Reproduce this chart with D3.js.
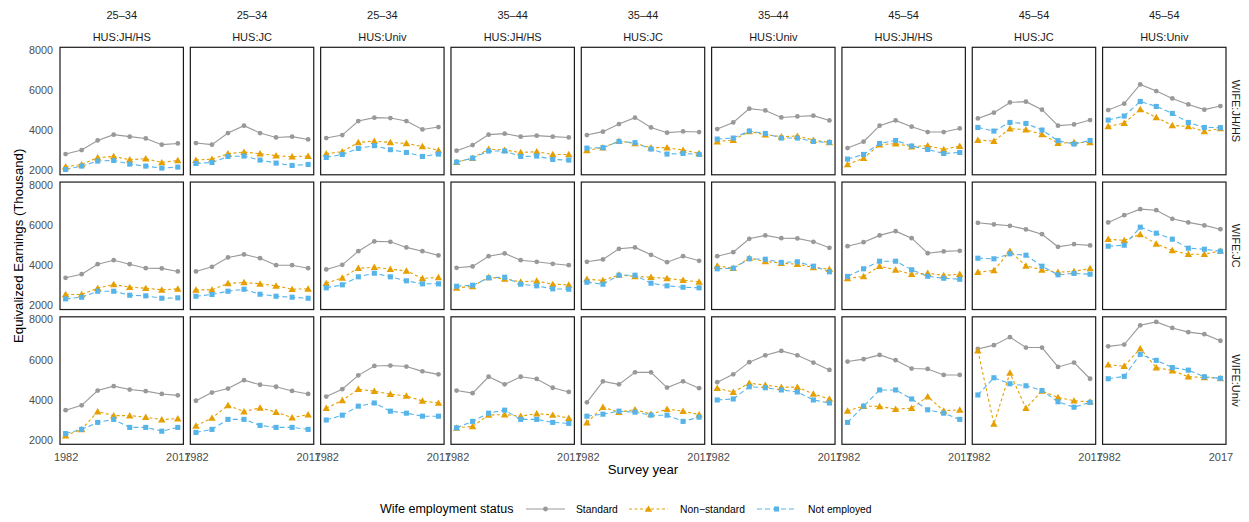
<!DOCTYPE html>
<html>
<head>
<meta charset="utf-8">
<script src="https://cdn.jsdelivr.net/npm/d3@7"></script>
<style>
  body { margin: 0; background: #fff; }
  svg { font-family: "Liberation Sans", Arial, Helvetica, sans-serif; }
</style>
</head>
<body>
<div id="chart"></div>
<script>
// facet labels
const ageGroups = ["25–34", "25–34", "25–34", "35–44", "35–44", "35–44", "45–54", "45–54", "45–54"];
const husEdu = ["HUS:JH/HS", "HUS:JC", "HUS:Univ", "HUS:JH/HS", "HUS:JC", "HUS:Univ", "HUS:JH/HS", "HUS:JC", "HUS:Univ"];
const wifeEdu = ["WIFE:JH/HS", "WIFE:JC", "WIFE:Univ"];
const years = [1982, 1987, 1992, 1997, 2002, 2007, 2012, 2017];
const yTicks = [2000, 4000, 6000, 8000];
const xTicks = [1982, 2017];

// values by [wife row][panel column][year]
const standard = [
  [
    [2800, 3000, 3480, 3770, 3670, 3580, 3270, 3330],
    [3350, 3270, 3850, 4220, 3850, 3630, 3670, 3530],
    [3600, 3750, 4450, 4620, 4600, 4450, 4030, 4150],
    [2970, 3250, 3770, 3820, 3670, 3720, 3670, 3630],
    [3750, 3920, 4300, 4620, 4130, 3870, 3930, 3900],
    [4050, 4380, 5070, 4980, 4630, 4680, 4720, 4480],
    [3100, 3420, 4220, 4480, 4170, 3900, 3900, 4080],
    [4580, 4870, 5380, 5420, 5020, 4220, 4280, 4500],
    [5000, 5320, 6280, 5950, 5580, 5280, 5020, 5200]
  ],
  [
    [3350, 3530, 4030, 4230, 4030, 3830, 3820, 3670],
    [3670, 3900, 4370, 4520, 4330, 3980, 3980, 3830],
    [3770, 4000, 4680, 5170, 5150, 4870, 4680, 4470],
    [3850, 3920, 4430, 4570, 4230, 4150, 4050, 3980],
    [4150, 4270, 4800, 4870, 4500, 4130, 4430, 4200],
    [4430, 4630, 5300, 5470, 5330, 5320, 5150, 4850],
    [4930, 5130, 5470, 5680, 5330, 4580, 4670, 4700],
    [6100, 6020, 5950, 5770, 5530, 4900, 5030, 4970],
    [6120, 6480, 6780, 6730, 6300, 6120, 5970, 5780]
  ],
  [
    [3470, 3710, 4450, 4670, 4500, 4420, 4280, 4210],
    [3940, 4350, 4550, 4970, 4740, 4640, 4430, 4280],
    [4150, 4520, 5210, 5680, 5700, 5650, 5410, 5260],
    [4450, 4320, 5140, 4760, 5140, 5030, 4590, 4380],
    [3860, 4910, 4760, 5360, 5360, 4600, 4910, 4570],
    [4870, 5260, 5870, 6210, 6430, 6210, 5850, 5480],
    [5900, 6020, 6230, 5970, 5550, 5530, 5230, 5230],
    [6530, 6720, 7120, 6600, 6600, 5630, 5850, 5040],
    [6660, 6750, 7710, 7880, 7580, 7370, 7270, 6940]
  ]
];

const nonStandard = [
  [
    [2170, 2280, 2620, 2680, 2520, 2570, 2380, 2480],
    [2500, 2550, 2820, 2900, 2820, 2720, 2670, 2700],
    [2820, 2920, 3380, 3450, 3380, 3330, 3180, 2980],
    [2400, 2600, 3050, 3000, 2880, 2920, 2780, 2780],
    [2980, 3120, 3450, 3330, 3120, 3120, 3000, 2830],
    [3420, 3500, 3930, 3770, 3670, 3700, 3500, 3380],
    [2280, 2600, 3270, 3320, 3170, 3220, 3030, 3200],
    [3500, 3450, 4070, 4020, 3780, 3350, 3380, 3380],
    [4180, 4350, 5030, 4630, 4230, 4180, 3930, 4080]
  ],
  [
    [2520, 2520, 2830, 3020, 2880, 2830, 2750, 2800],
    [2750, 2750, 3070, 3120, 3050, 2950, 2780, 2800],
    [3080, 3350, 3830, 3880, 3780, 3700, 3320, 3370],
    [2850, 2920, 3370, 3300, 3150, 3200, 3030, 3000],
    [3280, 3220, 3500, 3420, 3380, 3320, 3230, 3150],
    [3950, 3830, 4330, 4170, 4080, 4030, 3870, 3780],
    [3320, 3420, 3930, 3750, 3530, 3580, 3470, 3530],
    [3630, 3720, 4680, 3950, 3750, 3630, 3670, 3820],
    [5280, 5220, 5520, 5050, 4720, 4530, 4530, 4700]
  ],
  [
    [2200, 2510, 3400, 3200, 3200, 3120, 3000, 3050],
    [2690, 3080, 3710, 3400, 3590, 3370, 3100, 3250],
    [3570, 3960, 4520, 4420, 4270, 4180, 3930, 3830],
    [2590, 2660, 3230, 3250, 3170, 3300, 3230, 3070],
    [2850, 3620, 3370, 3500, 3270, 3520, 3420, 3250],
    [4570, 4370, 4820, 4720, 4620, 4620, 4280, 4030],
    [3440, 3670, 3660, 3520, 3570, 4150, 3440, 3490],
    [6450, 2780, 5330, 3570, 4430, 4110, 3940, 3890],
    [5740, 5670, 6550, 5600, 5450, 5140, 5110, 5060]
  ]
];

const notEmployed = [
  [
    [2030, 2200, 2450, 2480, 2300, 2200, 2100, 2150],
    [2330, 2380, 2680, 2700, 2500, 2350, 2230, 2280],
    [2630, 2780, 3080, 3220, 3020, 2880, 2680, 2800],
    [2400, 2600, 2950, 2950, 2680, 2700, 2530, 2500],
    [3100, 3120, 3430, 3370, 3050, 2800, 2830, 2780],
    [3550, 3600, 3950, 3830, 3600, 3600, 3430, 3380],
    [2550, 2780, 3330, 3480, 3200, 3030, 2830, 2880],
    [4130, 3950, 4380, 4330, 4000, 3470, 3300, 3480],
    [4500, 4700, 5430, 5180, 4830, 4380, 4130, 4120]
  ],
  [
    [2300, 2380, 2680, 2680, 2480, 2450, 2330, 2350],
    [2430, 2520, 2680, 2780, 2530, 2430, 2380, 2330],
    [2850, 3000, 3400, 3580, 3400, 3200, 3050, 3050],
    [2930, 2980, 3350, 3380, 3030, 2950, 2800, 2780],
    [3130, 3030, 3480, 3480, 3080, 2950, 2880, 2850],
    [3800, 3830, 4300, 4280, 4120, 4150, 3930, 3650],
    [3420, 3800, 4180, 4180, 3750, 3430, 3330, 3280],
    [4330, 4300, 4550, 4480, 3930, 3500, 3570, 3530],
    [4930, 4980, 5880, 5580, 5280, 4830, 4780, 4680]
  ],
  [
    [2300, 2510, 2860, 3010, 2610, 2610, 2420, 2610],
    [2360, 2510, 3010, 3010, 2710, 2610, 2610, 2510],
    [2980, 3220, 3670, 3830, 3420, 3320, 3170, 3170],
    [2590, 2910, 3320, 3470, 3010, 3010, 2860, 2810],
    [3170, 3270, 3420, 3370, 3220, 3220, 2910, 3120],
    [3980, 4030, 4640, 4590, 4480, 4380, 3980, 3830],
    [2860, 3670, 4480, 4480, 4030, 3490, 3320, 3010],
    [4230, 5090, 4790, 4690, 4450, 3890, 3620, 3860],
    [5040, 5160, 6260, 5960, 5600, 5470, 5140, 5060]
  ]
];

const seriesNames = ["Standard", "Non\u2212standard", "Not employed"];
const seriesData = [standard, nonStandard, notEmployed];
const colors = ["#999999", "#E69F00", "#56B4E9"];
const dashes = [null, "3,2.5", "5,3"];

const width = 1249, height = 522;

const svg = d3.select("#chart").append("svg")
    .attr("width", width)
    .attr("height", height);

const colBand = d3.scaleBand().domain(d3.range(9)).range([60, 1226]).paddingInner(0.053);
const rowBand = d3.scaleBand().domain(d3.range(3)).range([47.3, 444.3]).paddingInner(0.054);

const x = d3.scaleLinear().domain([1980.25, 2018.75]).range([0, colBand.bandwidth()]);
const y = d3.scaleLinear().domain([1765, 8135]).range([rowBand.bandwidth(), 0]);

const line = d3.line().x((d, i) => x(years[i])).y(d => y(d));

const tri = d3.symbol().type(d3.symbolTriangle).size(24);
const sq = d3.symbol().type(d3.symbolSquare).size(26);

function drawPoint(g, s, cx, cy) {
    if (s === 0) {
        g.append("circle").attr("cx", cx).attr("cy", cy).attr("r", 2.4).attr("fill", colors[0]);
    } else {
        g.append("path").attr("d", s === 1 ? tri() : sq())
            .attr("transform", `translate(${cx},${cy + (s === 1 ? 0.7 : 0)})`)
            .attr("fill", colors[s]);
    }
}

// top strips
ageGroups.forEach((a, c) => {
    const cx = colBand(c) + colBand.bandwidth() / 2;
    svg.append("text").attr("x", cx).attr("y", 19).attr("text-anchor", "middle")
        .style("font-size", "11px").attr("fill", "#1a1a1a").text(a);
    svg.append("text").attr("x", cx).attr("y", 41).attr("text-anchor", "middle")
        .style("font-size", "11px").attr("fill", "#1a1a1a").text(husEdu[c]);
});

// right strips
wifeEdu.forEach((w, r) => {
    const cy = rowBand(r) + rowBand.bandwidth() / 2;
    svg.append("text")
        .attr("transform", `translate(1232,${cy}) rotate(90)`)
        .attr("text-anchor", "middle")
        .style("font-size", "11px").attr("fill", "#1a1a1a").text(w);
});

for (let r = 0; r < 3; r++) {
    // y axis on first column
    const ya = svg.append("g")
        .attr("transform", `translate(${colBand(0)},${rowBand(r)})`)
        .call(d3.axisLeft(y).tickValues(yTicks).tickSize(0).tickPadding(7).tickFormat(d3.format("d")));
    ya.select(".domain").remove();
    ya.selectAll("text").style("font-size", "10.8px").attr("fill", "#4d4d4d")
        .style("font-family", "Liberation Sans, Arial, sans-serif");

    for (let c = 0; c < 9; c++) {
        const g = svg.append("g").attr("transform", `translate(${colBand(c)},${rowBand(r)})`);
        g.append("rect").attr("width", colBand.bandwidth()).attr("height", rowBand.bandwidth())
            .attr("fill", "#fff");

        seriesData.forEach((sd, s) => {
            g.append("path").attr("d", line(sd[r][c]))
                .attr("fill", "none").attr("stroke", colors[s]).attr("stroke-width", 1.1)
                .attr("stroke-dasharray", dashes[s]);
        });
        seriesData.forEach((sd, s) => {
            sd[r][c].forEach((v, i) => drawPoint(g, s, x(years[i]), y(v)));
        });

        g.append("rect").attr("width", colBand.bandwidth()).attr("height", rowBand.bandwidth())
            .attr("fill", "none").attr("stroke", "#1a1a1a").attr("stroke-width", 1.2);

        if (r === 2) {
            const xa = g.append("g").attr("transform", `translate(0,${rowBand.bandwidth()})`)
                .call(d3.axisBottom(x).tickValues(xTicks).tickSize(0).tickPadding(9).tickFormat(d3.format("d")));
            xa.select(".domain").remove();
            xa.selectAll("text").style("font-size", "11px").attr("fill", "#4d4d4d")
                .style("font-family", "Liberation Sans, Arial, sans-serif");
        }
    }
}

// axis titles
svg.append("text")
    .attr("transform", `translate(23,${(47.3 + 444.3) / 2}) rotate(-90)`)
    .attr("text-anchor", "middle").style("font-size", "13.2px").attr("fill", "#000")
    .text("Equivalized Earnings (Thousand)");

svg.append("text")
    .attr("x", (60 + 1226) / 2).attr("y", 474)
    .attr("text-anchor", "middle").style("font-size", "13.2px").attr("fill", "#000")
    .text("Survey year");

// legend
const legend = svg.append("g").attr("transform", "translate(0,509)");
legend.append("text").attr("x", 380).attr("y", 4.4).style("font-size", "12.5px").attr("fill", "#000")
    .text("Wife employment status");
const keyX = [526, 629, 757];
const labX = [576, 680, 808];
seriesNames.forEach((n, s) => {
    const kg = legend.append("g");
    kg.append("line").attr("x1", keyX[s]).attr("x2", keyX[s] + 39).attr("y1", 0).attr("y2", 0)
        .attr("stroke", colors[s]).attr("stroke-width", 1.1).attr("stroke-dasharray", dashes[s]);
    drawPoint(kg, s, keyX[s] + 19.5, 0);
    legend.append("text").attr("x", labX[s]).attr("y", 3.7).style("font-size", "10.3px").attr("fill", "#000")
        .text(n);
});
</script>
</body>
</html>
